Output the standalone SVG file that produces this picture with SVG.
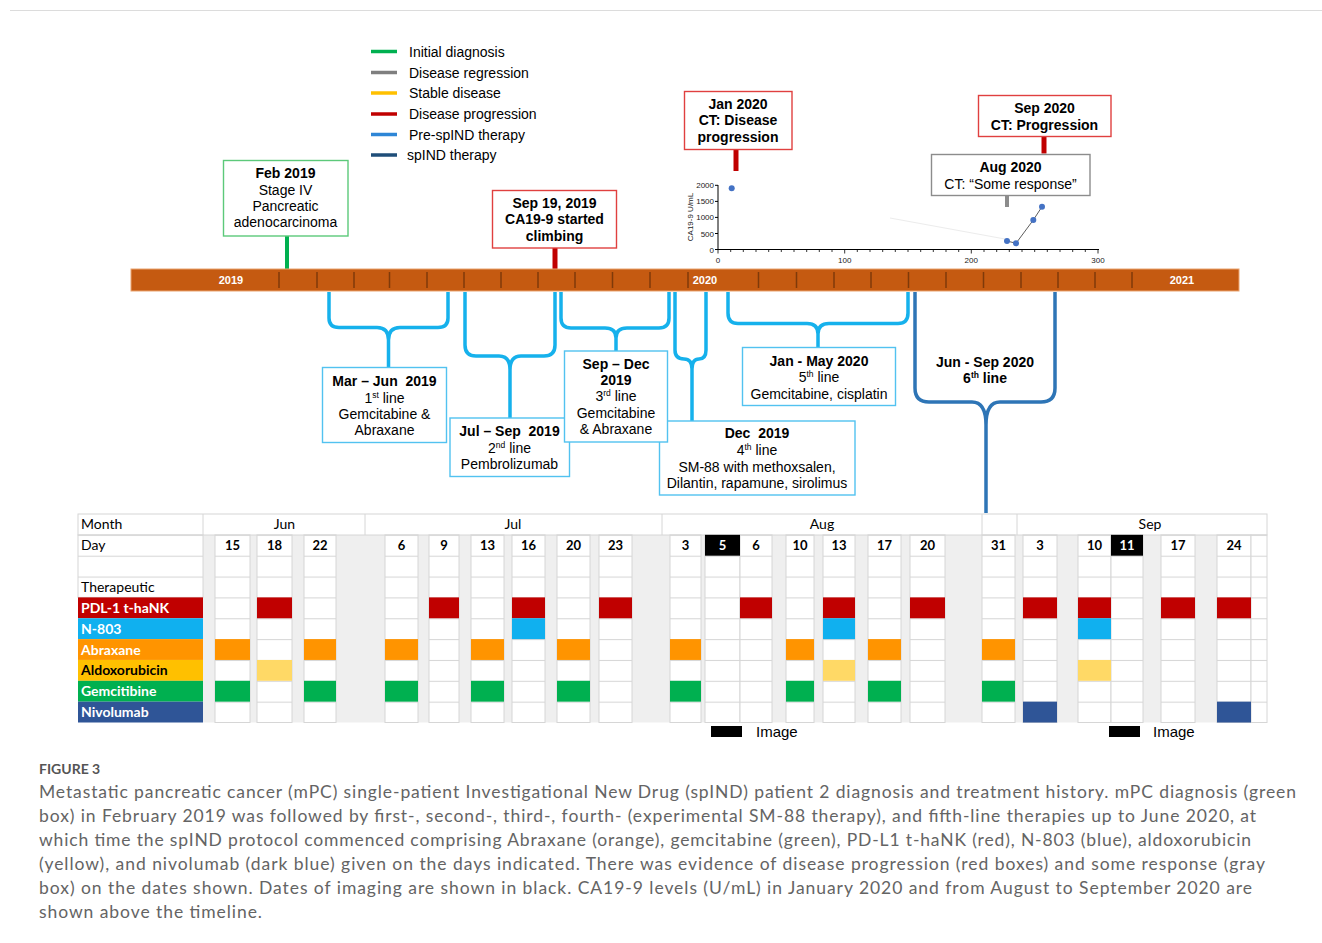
<svg xmlns="http://www.w3.org/2000/svg" width="1322" height="943" viewBox="0 0 1322 943">
<style>
.t{font-family:"Liberation Sans",Arial,sans-serif;font-size:14px;fill:#000}
.b{font-weight:bold}
.m{text-anchor:middle}
.box{fill:#fff;stroke-width:1.4}
.bl{stroke:#52c2f0}
.rd{stroke:#e0403f}
.gn{stroke:#5cc97a}
.gy{stroke:#8c8c8c}
.br{fill:none;stroke:#16b1ec;stroke-width:3.5}
.br6{fill:none;stroke:#2e75b6;stroke-width:3.5}
.tick{stroke:#7f3a0a;stroke-width:1.5}
.ax{font-family:"Liberation Sans",Arial,sans-serif;font-size:8px;fill:#222}
.tb{font-family:Lato,"Liberation Sans",sans-serif;font-size:14px;fill:#000}
.dn{font-family:Lato,"Liberation Sans",sans-serif;font-size:13px;font-weight:bold;text-anchor:middle;fill:#000}
.lab{font-family:Lato,"Liberation Sans",sans-serif;font-size:14px;font-weight:bold;fill:#fff}
.col{fill:url(#rows);stroke:#d6d6d6;stroke-width:1}
.cap{font-family:Lato,"Liberation Sans",sans-serif;font-size:17.5px;fill:#646464}
.R{fill:#c00000}.C{fill:#10b0ef}.O{fill:#ff9400}.Y{fill:#ffd966}.G{fill:#00b050}.N{fill:#2f5597}
</style>
<defs>
<pattern id="rows" x="0" y="534.85" width="20" height="20.85" patternUnits="userSpaceOnUse">
<rect width="20" height="20.85" fill="#fff"/>
<rect width="20" height="1" fill="#d6d6d6"/>
</pattern>
</defs>
<rect width="1322" height="943" fill="#fff"/>
<line x1="10" y1="10.5" x2="1322" y2="10.5" stroke="#dcdcdc" stroke-width="1"/>

<g id="legend">
<line x1="371" y1="51.5" x2="397" y2="51.5" stroke="#00b050" stroke-width="3.5"/>
<text class="t" x="409" y="56.5">Initial diagnosis</text>
<line x1="371" y1="72.5" x2="397" y2="72.5" stroke="#7f7f7f" stroke-width="3.5"/>
<text class="t" x="409" y="77.5">Disease regression</text>
<line x1="371" y1="93" x2="397" y2="93" stroke="#ffc000" stroke-width="3.5"/>
<text class="t" x="409" y="98">Stable disease</text>
<line x1="371" y1="114" x2="397" y2="114" stroke="#c00000" stroke-width="3.5"/>
<text class="t" x="409" y="118.5">Disease progression</text>
<line x1="371" y1="134.5" x2="397" y2="134.5" stroke="#2e86d6" stroke-width="3.5"/>
<text class="t" x="409" y="139.5">Pre-spIND therapy</text>
<line x1="371" y1="155" x2="397" y2="155" stroke="#1f4e79" stroke-width="3.5"/>
<text class="t" x="407" y="160">spIND therapy</text>
</g>

<g id="connectors">
<line x1="287" y1="236" x2="287" y2="269" stroke="#00b050" stroke-width="4"/>
<line x1="555" y1="248" x2="555" y2="269" stroke="#c00000" stroke-width="5"/>
<line x1="736" y1="149.5" x2="736" y2="171" stroke="#c00000" stroke-width="5"/>
<line x1="1044" y1="136" x2="1044" y2="153.5" stroke="#c00000" stroke-width="5"/>
<line x1="1007" y1="195.5" x2="1007" y2="207" stroke="#8c8c8c" stroke-width="4"/>
<path class="br" d="M329,292 V318 Q329,327.5 339,327.5 H377 Q388.5,327.5 388.5,340 V368 M448,292 V318 Q448,327.5 438,327.5 H400 Q388.5,327.5 388.5,340"/>
<path class="br" d="M465,292 V345 Q465,356 476,356 H499 Q510,356 510,370 V418 M555,292 V345 Q555,356 544,356 H521 Q510,356 510,370"/>
<path class="br" d="M561,292 V318 Q561,328 571,328 H605 Q616,328 616,338 V351 M669,292 V318 Q669,328 659,328 H627 Q616,328 616,338"/>
<path class="br" d="M675,292 V350 Q675,359 684,359 Q692,359 692,369 V421 M706,292 V350 Q706,359 699,359 Q692,359 692,369"/>
<path class="br" d="M728,292 V313 Q728,323.5 738,323.5 H807 Q818,323.5 818,334 V347.5 M908,292 V313 Q908,323.5 898,323.5 H829 Q818,323.5 818,334"/>
<path class="br6" d="M915,292 V388 Q915,402 929,402 H972 Q986,402 986,425 V513 M1055,292 V388 Q1055,402 1041,402 H1000 Q986,402 986,425"/>
</g>

<g id="timeline">
<rect x="131" y="269" width="1108" height="22" fill="#c55a11" stroke="#eaa470" stroke-width="1"/>
<g class="tick">
<line x1="279" y1="272" x2="279" y2="288"/><line x1="317" y1="272" x2="317" y2="288"/><line x1="354" y1="272" x2="354" y2="288"/><line x1="389.5" y1="272" x2="389.5" y2="288"/><line x1="427" y1="272" x2="427" y2="288"/><line x1="464" y1="272" x2="464" y2="288"/><line x1="501" y1="272" x2="501" y2="288"/><line x1="538" y1="272" x2="538" y2="288"/><line x1="575" y1="272" x2="575" y2="288"/><line x1="612.5" y1="272" x2="612.5" y2="288"/><line x1="650" y1="272" x2="650" y2="288"/><line x1="688" y1="272" x2="688" y2="288"/>
<line x1="758.5" y1="272" x2="758.5" y2="288"/><line x1="796.5" y1="272" x2="796.5" y2="288"/><line x1="834" y1="272" x2="834" y2="288"/><line x1="871" y1="272" x2="871" y2="288"/><line x1="908.5" y1="272" x2="908.5" y2="288"/><line x1="946" y1="272" x2="946" y2="288"/><line x1="983.5" y1="272" x2="983.5" y2="288"/><line x1="1021" y1="272" x2="1021" y2="288"/><line x1="1058" y1="272" x2="1058" y2="288"/><line x1="1095" y1="272" x2="1095" y2="288"/><line x1="1132" y1="272" x2="1132" y2="288"/>
</g>
<text class="t b m" x="231" y="284" style="font-size:11px;fill:#fff">2019</text>
<text class="t b m" x="705" y="284" style="font-size:11px;fill:#fff">2020</text>
<text class="t b m" x="1182" y="284" style="font-size:11px;fill:#fff">2021</text>
</g>

<g id="chart">
<line x1="890" y1="218" x2="1005" y2="239" stroke="#ececec" stroke-width="1"/>
<path d="M718,185 V249.5 H1099" fill="none" stroke="#000" stroke-width="1"/>
<path d="M715,185.3 H718 M715,201.4 H718 M715,217.4 H718 M715,233.5 H718 M715,249.5 H718" stroke="#000" stroke-width="1"/>
<path d="M718,249.5 v4 M730.7,249.5 v2.5 M743.3,249.5 v2.5 M756,249.5 v2.5 M768.7,249.5 v2.5 M781.3,249.5 v2.5 M794,249.5 v2.5 M806.7,249.5 v2.5 M819.3,249.5 v2.5 M832,249.5 v2.5 M844.7,249.5 v4 M857.3,249.5 v2.5 M870,249.5 v2.5 M882.7,249.5 v2.5 M895.3,249.5 v2.5 M908,249.5 v2.5 M920.7,249.5 v2.5 M933.3,249.5 v2.5 M946,249.5 v2.5 M958.7,249.5 v2.5 M971.3,249.5 v4 M984,249.5 v2.5 M996.7,249.5 v2.5 M1009.3,249.5 v2.5 M1022,249.5 v2.5 M1034.7,249.5 v2.5 M1047.3,249.5 v2.5 M1060,249.5 v2.5 M1072.7,249.5 v2.5 M1085.3,249.5 v2.5 M1098,249.5 v4" stroke="#000" stroke-width="0.8"/>
<text class="ax" x="714" y="188.3" text-anchor="end">2000</text>
<text class="ax" x="714" y="204.4" text-anchor="end">1500</text>
<text class="ax" x="714" y="220.4" text-anchor="end">1000</text>
<text class="ax" x="714" y="236.5" text-anchor="end">500</text>
<text class="ax" x="714" y="252.5" text-anchor="end">0</text>
<text class="ax" x="718" y="263" text-anchor="middle">0</text>
<text class="ax" x="844.7" y="263" text-anchor="middle">100</text>
<text class="ax" x="971.3" y="263" text-anchor="middle">200</text>
<text class="ax" x="1098" y="263" text-anchor="middle">300</text>
<text class="ax" transform="translate(693,217) rotate(-90)" text-anchor="middle">CA19-9 U/mL</text>
<polyline points="1007,241 1016,243.3 1033.3,220 1042,206.7" fill="none" stroke="#333" stroke-width="0.8"/>
<g fill="#4472c4">
<circle cx="731.7" cy="188.3" r="3"/><circle cx="1007" cy="241" r="3"/><circle cx="1016" cy="243.3" r="3"/><circle cx="1033.3" cy="220" r="3"/><circle cx="1042" cy="206.7" r="3"/>
</g>
</g>

<g id="n-feb2019">
<rect class="box gn" x="223.5" y="160.5" width="124.5" height="75.5"/>
<text class="t b m" x="285.5" y="178">Feb 2019</text>
<text class="t m" x="285.5" y="194.5">Stage IV</text>
<text class="t m" x="285.5" y="211">Pancreatic</text>
<text class="t m" x="285.5" y="227">adenocarcinoma</text>
</g>
<g id="n-sep2019">
<rect class="box rd" x="492.5" y="190.5" width="124" height="57.5"/>
<text class="t b m" x="554.5" y="208">Sep 19, 2019</text>
<text class="t b m" x="554.5" y="224">CA19-9 started</text>
<text class="t b m" x="554.5" y="240.5">climbing</text>
</g>
<g id="n-jan2020">
<rect class="box rd" x="684.5" y="91.5" width="107.5" height="58"/>
<text class="t b m" x="738" y="109">Jan 2020</text>
<text class="t b m" x="738" y="125">CT: Disease</text>
<text class="t b m" x="738" y="142">progression</text>
</g>
<g id="n-sep2020">
<rect class="box rd" x="978.5" y="95.5" width="132.5" height="41"/>
<text class="t b m" x="1044.5" y="113">Sep 2020</text>
<text class="t b m" x="1044.5" y="129.5">CT: Progression</text>
</g>
<g id="n-aug2020">
<rect class="box gy" x="931.5" y="154.5" width="158.5" height="41"/>
<text class="t b m" x="1010.5" y="172">Aug 2020</text>
<text class="t m" x="1010.5" y="189">CT: “Some response”</text>
</g>

<g id="n-line1">
<rect class="box bl" x="322.5" y="367.5" width="124" height="75"/>
<text class="t b m" x="384.5" y="386" xml:space="preserve">Mar – Jun  2019</text>
<text class="t m" x="384.5" y="402.5">1<tspan font-size="8.5" dy="-5">st</tspan><tspan dy="5"> line</tspan></text>
<text class="t m" x="384.5" y="419">Gemcitabine &amp;</text>
<text class="t m" x="384.5" y="435">Abraxane</text>
</g>
<g id="n-line2">
<rect class="box bl" x="450" y="418" width="119.5" height="58.5"/>
<text class="t b m" x="509.5" y="436" xml:space="preserve">Jul – Sep  2019</text>
<text class="t m" x="509.5" y="452.5">2<tspan font-size="8.5" dy="-5">nd</tspan><tspan dy="5"> line</tspan></text>
<text class="t m" x="509.5" y="468.5">Pembrolizumab</text>
</g>
<g id="n-line4">
<rect class="box bl" x="659.5" y="421" width="195.5" height="74"/>
<text class="t b m" x="757" y="438" xml:space="preserve">Dec  2019</text>
<text class="t m" x="757" y="454.5">4<tspan font-size="8.5" dy="-5">th</tspan><tspan dy="5"> line</tspan></text>
<text class="t m" x="757" y="471.5">SM-88 with methoxsalen,</text>
<text class="t m" x="757" y="487.5">Dilantin, rapamune, sirolimus</text>
</g>
<g id="n-line3">
<rect class="box bl" x="564.5" y="351" width="103" height="91"/>
<text class="t b m" x="616" y="369">Sep – Dec</text>
<text class="t b m" x="616" y="385">2019</text>
<text class="t m" x="616" y="401">3<tspan font-size="8.5" dy="-5">rd</tspan><tspan dy="5"> line</tspan></text>
<text class="t m" x="616" y="417.5">Gemcitabine</text>
<text class="t m" x="616" y="433.5">&amp; Abraxane</text>
</g>
<g id="n-line5">
<rect class="box bl" x="742.5" y="347.5" width="153" height="58"/>
<text class="t b m" x="819" y="366">Jan - May 2020</text>
<text class="t m" x="819" y="382">5<tspan font-size="8.5" dy="-5">th</tspan><tspan dy="5"> line</tspan></text>
<text class="t m" x="819" y="398.5">Gemcitabine, cisplatin</text>
</g>
<g id="n-line6">
<text class="t b m" x="985" y="366.5">Jun - Sep 2020</text>
<text class="t b m" x="985" y="382.5">6<tspan font-size="8.5" dy="-5">th</tspan><tspan dy="5"> line</tspan></text>
</g>

<g id="table">
<rect x="203" y="535" width="1064" height="187.5" fill="#efefef"/>
<rect x="78" y="514" width="1189" height="21" fill="#fff" stroke="#d6d6d6"/>
<path d="M203,514 V535 M365,514 V535 M662,514 V535 M982,514 V535 M1017,514 V535" stroke="#d6d6d6"/>
<text class="tb" x="81" y="529">Month</text>
<text class="tb" x="284.5" y="529" text-anchor="middle">Jun</text>
<text class="tb" x="513" y="529" text-anchor="middle">Jul</text>
<text class="tb" x="822" y="529" text-anchor="middle">Aug</text>
<text class="tb" x="1150" y="529" text-anchor="middle">Sep</text>
<rect x="78" y="534.85" width="125" height="62.55" class="col"/>
<text class="tb" x="81" y="550">Day</text>
<text class="tb" x="81" y="592">Therapeutic</text>
<rect x="78" y="597.4" width="125" height="20.85" class="R"/>
<rect x="78" y="618.25" width="125" height="20.85" class="C"/>
<rect x="78" y="639.1" width="125" height="20.85" class="O"/>
<rect x="78" y="659.95" width="125" height="20.85" fill="#ffc000"/>
<rect x="78" y="680.8" width="125" height="20.85" class="G"/>
<rect x="78" y="701.65" width="125" height="20.85" class="N"/>
<text class="lab" x="81" y="612.5">PDL-1 t-haNK</text>
<text class="lab" x="81" y="633.5">N-803</text>
<text class="lab" x="81" y="654.5">Abraxane</text>
<text class="lab" x="81" y="675" style="fill:#000">Aldoxorubicin</text>
<text class="lab" x="81" y="696">Gemcitibine</text>
<text class="lab" x="81" y="717">Nivolumab</text>
<g>
<rect class="col" x="215" y="534.85" width="35" height="187.65"/>
<rect class="col" x="257" y="534.85" width="35" height="187.65"/>
<rect class="col" x="304" y="534.85" width="32" height="187.65"/>
<rect class="col" x="385" y="534.85" width="33" height="187.65"/>
<rect class="col" x="429" y="534.85" width="30" height="187.65"/>
<rect class="col" x="471" y="534.85" width="33" height="187.65"/>
<rect class="col" x="512" y="534.85" width="33" height="187.65"/>
<rect class="col" x="557" y="534.85" width="33" height="187.65"/>
<rect class="col" x="599" y="534.85" width="33" height="187.65"/>
<rect class="col" x="670" y="534.85" width="31" height="187.65"/>
<rect class="col" x="705" y="534.85" width="35" height="187.65"/>
<rect class="col" x="740" y="534.85" width="32" height="187.65"/>
<rect class="col" x="786" y="534.85" width="28" height="187.65"/>
<rect class="col" x="823" y="534.85" width="32" height="187.65"/>
<rect class="col" x="868" y="534.85" width="33" height="187.65"/>
<rect class="col" x="910" y="534.85" width="35" height="187.65"/>
<rect class="col" x="982" y="534.85" width="33" height="187.65"/>
<rect class="col" x="1023" y="534.85" width="34" height="187.65"/>
<rect class="col" x="1078" y="534.85" width="33" height="187.65"/>
<rect class="col" x="1111" y="534.85" width="32" height="187.65"/>
<rect class="col" x="1161" y="534.85" width="34" height="187.65"/>
<rect class="col" x="1217" y="534.85" width="34" height="187.65"/>
<rect class="col" x="1251" y="534.85" width="16" height="187.65"/>
</g>
<rect x="705" y="534.85" width="35" height="20.85" fill="#000"/>
<rect x="1111" y="534.85" width="32" height="20.85" fill="#000"/>
<g>
<text class="dn" x="232.5" y="550">15</text>
<text class="dn" x="274.5" y="550">18</text>
<text class="dn" x="320" y="550">22</text>
<text class="dn" x="401.5" y="550">6</text>
<text class="dn" x="444" y="550">9</text>
<text class="dn" x="487.5" y="550">13</text>
<text class="dn" x="528.5" y="550">16</text>
<text class="dn" x="573.5" y="550">20</text>
<text class="dn" x="615.5" y="550">23</text>
<text class="dn" x="685.5" y="550">3</text>
<text class="dn" x="722.5" y="550" style="fill:#fff">5</text>
<text class="dn" x="756" y="550">6</text>
<text class="dn" x="800" y="550">10</text>
<text class="dn" x="839" y="550">13</text>
<text class="dn" x="884.5" y="550">17</text>
<text class="dn" x="927.5" y="550">20</text>
<text class="dn" x="998.5" y="550">31</text>
<text class="dn" x="1040" y="550">3</text>
<text class="dn" x="1094.5" y="550">10</text>
<text class="dn" x="1127" y="550" style="fill:#fff">11</text>
<text class="dn" x="1178" y="550">17</text>
<text class="dn" x="1234" y="550">24</text>
</g>
<g>
<rect class="R" x="257" y="597.4" width="35" height="20.85"/>
<rect class="R" x="429" y="597.4" width="30" height="20.85"/>
<rect class="R" x="512" y="597.4" width="33" height="20.85"/>
<rect class="R" x="599" y="597.4" width="33" height="20.85"/>
<rect class="R" x="740" y="597.4" width="32" height="20.85"/>
<rect class="R" x="823" y="597.4" width="32" height="20.85"/>
<rect class="R" x="910" y="597.4" width="35" height="20.85"/>
<rect class="R" x="1023" y="597.4" width="34" height="20.85"/>
<rect class="R" x="1078" y="597.4" width="33" height="20.85"/>
<rect class="R" x="1161" y="597.4" width="34" height="20.85"/>
<rect class="R" x="1217" y="597.4" width="34" height="20.85"/>
<rect class="C" x="512" y="618.25" width="33" height="20.85"/>
<rect class="C" x="823" y="618.25" width="32" height="20.85"/>
<rect class="C" x="1078" y="618.25" width="33" height="20.85"/>
<rect class="O" x="215" y="639.1" width="35" height="20.85"/>
<rect class="O" x="304" y="639.1" width="32" height="20.85"/>
<rect class="O" x="385" y="639.1" width="33" height="20.85"/>
<rect class="O" x="471" y="639.1" width="33" height="20.85"/>
<rect class="O" x="557" y="639.1" width="33" height="20.85"/>
<rect class="O" x="670" y="639.1" width="31" height="20.85"/>
<rect class="O" x="786" y="639.1" width="28" height="20.85"/>
<rect class="O" x="868" y="639.1" width="33" height="20.85"/>
<rect class="O" x="982" y="639.1" width="33" height="20.85"/>
<rect class="Y" x="257" y="659.95" width="35" height="20.85"/>
<rect class="Y" x="823" y="659.95" width="32" height="20.85"/>
<rect class="Y" x="1078" y="659.95" width="33" height="20.85"/>
<rect class="G" x="215" y="680.8" width="35" height="20.85"/>
<rect class="G" x="304" y="680.8" width="32" height="20.85"/>
<rect class="G" x="385" y="680.8" width="33" height="20.85"/>
<rect class="G" x="471" y="680.8" width="33" height="20.85"/>
<rect class="G" x="557" y="680.8" width="33" height="20.85"/>
<rect class="G" x="670" y="680.8" width="31" height="20.85"/>
<rect class="G" x="786" y="680.8" width="28" height="20.85"/>
<rect class="G" x="868" y="680.8" width="33" height="20.85"/>
<rect class="G" x="982" y="680.8" width="33" height="20.85"/>
<rect class="N" x="1023" y="701.65" width="34" height="20.85"/>
<rect class="N" x="1217" y="701.65" width="34" height="20.85"/>
</g>
<rect x="711" y="726" width="31" height="11" fill="#000"/>
<text class="t" x="756" y="737" style="font-size:15px">Image</text>
<rect x="1109" y="726" width="31" height="11" fill="#000"/>
<text class="t" x="1153" y="737" style="font-size:15px">Image</text>
</g>

<g id="caption">
<text x="39" y="774" style="font-family:Lato,'Liberation Sans',sans-serif;font-size:14px;font-weight:bold;fill:#555">FIGURE 3</text>
<text class="cap" x="39" y="798" textLength="1257" lengthAdjust="spacing">Metastatic pancreatic cancer (mPC) single-patient Investigational New Drug (spIND) patient 2 diagnosis and treatment history. mPC diagnosis (green</text>
<text class="cap" x="39" y="822" textLength="1217" lengthAdjust="spacing">box) in February 2019 was followed by first-, second-, third-, fourth- (experimental SM-88 therapy), and fifth-line therapies up to June 2020, at</text>
<text class="cap" x="39" y="846" textLength="1212" lengthAdjust="spacing">which time the spIND protocol commenced comprising Abraxane (orange), gemcitabine (green), PD-L1 t-haNK (red), N-803 (blue), aldoxorubicin</text>
<text class="cap" x="39" y="870" textLength="1226" lengthAdjust="spacing">(yellow), and nivolumab (dark blue) given on the days indicated. There was evidence of disease progression (red boxes) and some response (gray</text>
<text class="cap" x="39" y="894" textLength="1213" lengthAdjust="spacing">box) on the dates shown. Dates of imaging are shown in black. CA19-9 levels (U/mL) in January 2020 and from August to September 2020 are</text>
<text class="cap" x="39" y="918" textLength="223" lengthAdjust="spacing">shown above the timeline.</text>
</g>
</svg>
